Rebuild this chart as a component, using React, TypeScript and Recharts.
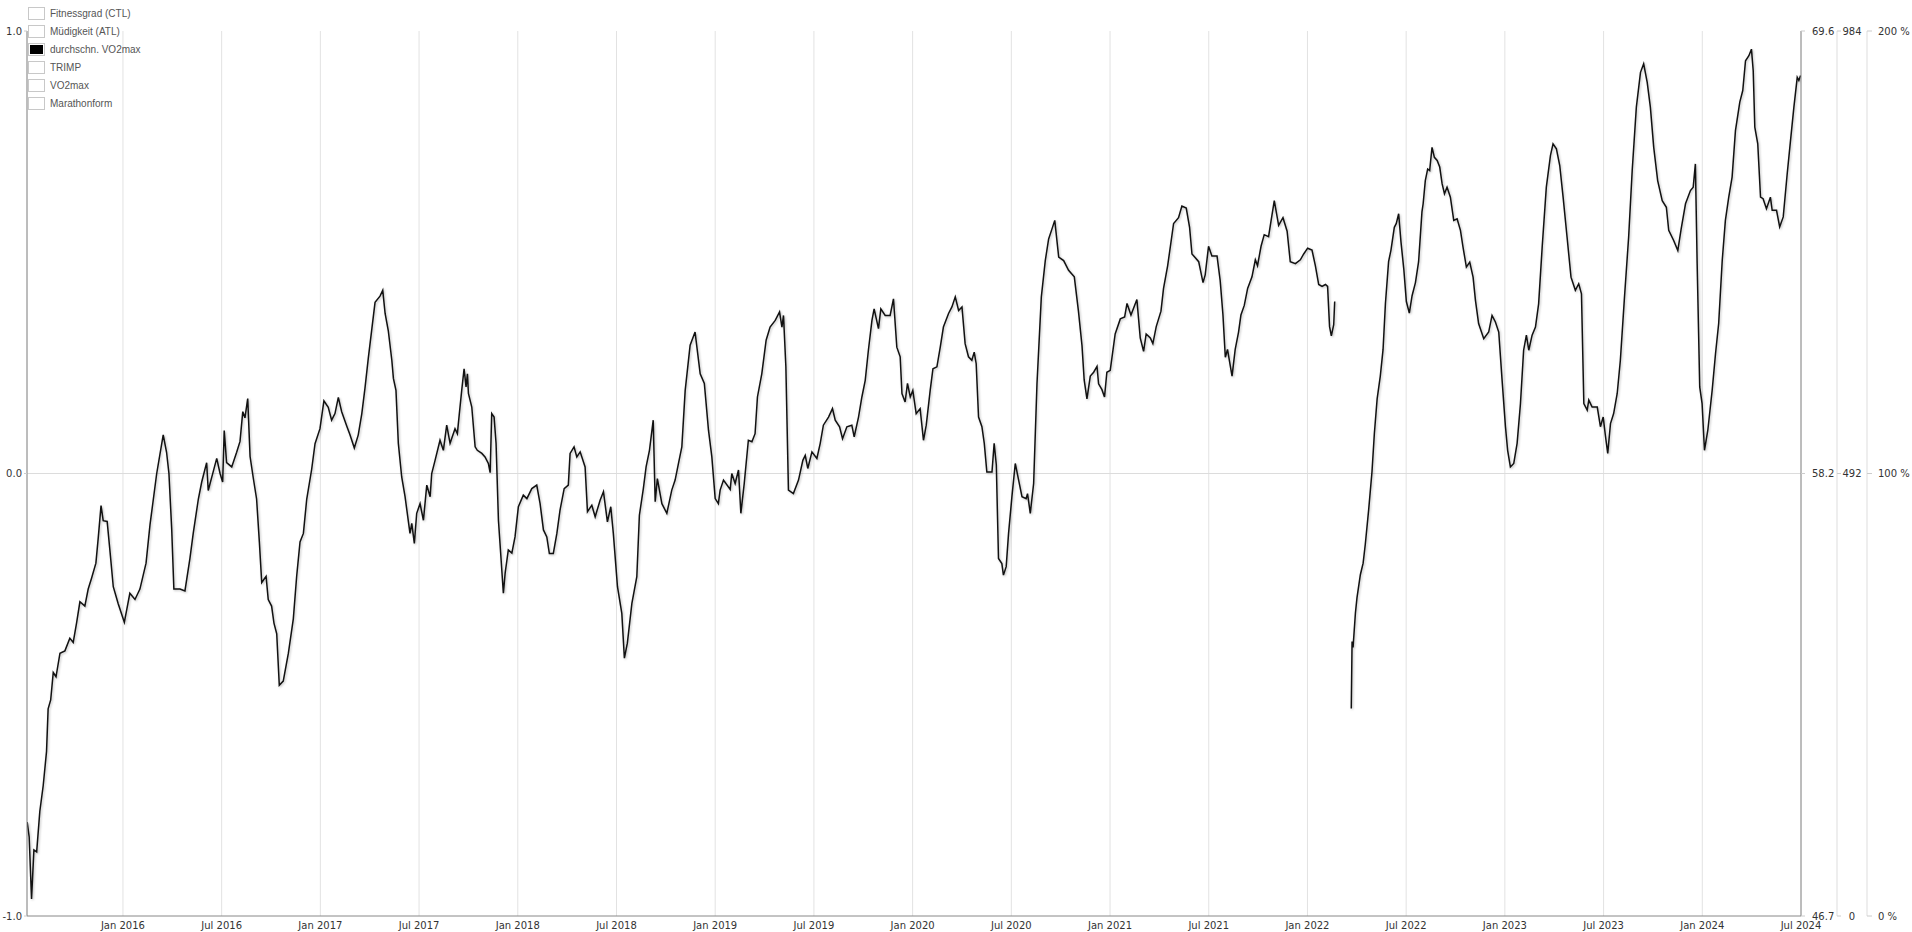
import { CartesianGrid, Line, LineChart, ReferenceLine, XAxis, YAxis } from "recharts";

// legend entries (only one series is switched on)
const legendItems = ["Fitnessgrad (CTL)", "Müdigkeit (ATL)", "durchschn. VO2max", "TRIMP", "VO2max", "Marathonform"];
const activeItem = "durchschn. VO2max";

// x axis: decimal years, ticks on Jan / Jul
const xTicks = [2016, 2016.5, 2017, 2017.5, 2018, 2018.5, 2019, 2019.5, 2020, 2020.5, 2021, 2021.5, 2022, 2022.5, 2023, 2023.5, 2024, 2024.5];
const xTickLabels = ["Jan 2016", "Jul 2016", "Jan 2017", "Jul 2017", "Jan 2018", "Jul 2018", "Jan 2019", "Jul 2019", "Jan 2020", "Jul 2020", "Jan 2021", "Jul 2021", "Jan 2022", "Jul 2022", "Jan 2023", "Jul 2023", "Jan 2024", "Jul 2024"];

const leftTicks = [-1, 0, 1];
const vo2Ticks = [46.7, 58.15, 69.6];
const vo2TickLabels = ["46.7", "58.2", "69.6"];
const trimpTicks = [0, 492, 984];
const formTicks = [0, 100, 200];

// durchschn. VO2max, [decimal year, value]
const vo2_2015: [number, number | null][] = [
  [2015.515, 49.13], [2015.525, 48.75], [2015.537, 47.14], [2015.549, 48.41], [2015.563, 48.36], [2015.579, 49.41],
  [2015.596, 50.07], [2015.613, 50.96], [2015.621, 52.06], [2015.634, 52.29], [2015.647, 53.0], [2015.661, 52.89],
  [2015.681, 53.5], [2015.706, 53.56], [2015.731, 53.89], [2015.748, 53.78], [2015.765, 54.28], [2015.782, 54.83],
  [2015.807, 54.72], [2015.824, 55.16], [2015.841, 55.44], [2015.863, 55.83], [2015.875, 56.49], [2015.889, 57.32],
  [2015.9, 56.93], [2015.92, 56.91], [2015.934, 56.16], [2015.951, 55.22], [2015.976, 54.78],
];
const vo2_2016: [number, number | null][] = [
  [2016.007, 54.3], [2016.035, 55.05], [2016.061, 54.89], [2016.086, 55.16], [2016.117, 55.83], [2016.137, 56.82],
  [2016.171, 58.15], [2016.204, 59.15], [2016.221, 58.7], [2016.233, 58.15], [2016.247, 56.71], [2016.258, 55.16],
  [2016.289, 55.16], [2016.314, 55.11], [2016.339, 55.94], [2016.356, 56.6], [2016.382, 57.49], [2016.399, 57.93],
  [2016.424, 58.43], [2016.432, 57.71], [2016.458, 58.21], [2016.475, 58.54], [2016.492, 58.15], [2016.505, 57.93],
  [2016.513, 59.26], [2016.525, 58.43], [2016.551, 58.32], [2016.576, 58.7], [2016.593, 58.98], [2016.607, 59.75],
  [2016.618, 59.59], [2016.632, 60.09], [2016.644, 58.59], [2016.66, 58.04], [2016.677, 57.49], [2016.691, 56.38],
  [2016.703, 55.33], [2016.725, 55.49], [2016.736, 54.89], [2016.753, 54.72], [2016.765, 54.28], [2016.779, 54.0],
  [2016.792, 52.67], [2016.812, 52.78], [2016.838, 53.5], [2016.863, 54.39], [2016.88, 55.49], [2016.897, 56.38],
  [2016.914, 56.6], [2016.931, 57.49], [2016.956, 58.26], [2016.973, 58.92], [2016.998, 59.31],
];
const vo2_2017: [number, number | null][] = [
  [2017.018, 60.03], [2017.04, 59.86], [2017.057, 59.53], [2017.074, 59.7], [2017.091, 60.12], [2017.108, 59.75],
  [2017.134, 59.37], [2017.15, 59.15], [2017.172, 58.81], [2017.192, 59.15], [2017.21, 59.7], [2017.226, 60.36],
  [2017.243, 61.14], [2017.26, 61.86], [2017.277, 62.58], [2017.302, 62.74], [2017.316, 62.89], [2017.328, 62.29],
  [2017.344, 61.85], [2017.362, 61.08], [2017.37, 60.61], [2017.383, 60.3], [2017.395, 58.93], [2017.412, 58.06],
  [2017.429, 57.55], [2017.454, 56.6], [2017.463, 56.86], [2017.476, 56.34], [2017.488, 57.12], [2017.505, 57.37],
  [2017.522, 56.94], [2017.539, 57.85], [2017.556, 57.55], [2017.564, 58.15], [2017.581, 58.49], [2017.606, 59.01],
  [2017.623, 58.75], [2017.64, 59.4], [2017.657, 58.93], [2017.682, 59.31], [2017.694, 59.18], [2017.704, 59.7],
  [2017.716, 60.3], [2017.728, 60.86], [2017.738, 60.39], [2017.745, 60.73], [2017.75, 60.22], [2017.767, 59.87],
  [2017.784, 58.84], [2017.795, 58.75], [2017.818, 58.67], [2017.834, 58.58], [2017.851, 58.41], [2017.86, 58.17],
  [2017.868, 59.7], [2017.88, 59.61], [2017.89, 58.93], [2017.902, 56.94], [2017.91, 56.34], [2017.927, 55.05],
  [2017.936, 55.57], [2017.952, 56.17], [2017.97, 56.09], [2017.986, 56.51],
];
const vo2_2018: [number, number | null][] = [
  [2018.003, 57.29], [2018.028, 57.59], [2018.046, 57.5], [2018.071, 57.76], [2018.096, 57.85], [2018.113, 57.37],
  [2018.13, 56.69], [2018.147, 56.51], [2018.16, 56.08], [2018.18, 56.08], [2018.198, 56.6], [2018.214, 57.2],
  [2018.235, 57.76], [2018.256, 57.85], [2018.265, 58.67], [2018.285, 58.84], [2018.299, 58.58], [2018.316, 58.71],
  [2018.341, 58.32], [2018.353, 57.16], [2018.375, 57.33], [2018.392, 57.03], [2018.417, 57.46], [2018.434, 57.68],
  [2018.454, 56.9], [2018.471, 57.29], [2018.484, 56.6], [2018.505, 55.22], [2018.527, 54.53], [2018.54, 53.37],
  [2018.555, 53.76], [2018.578, 54.79], [2018.603, 55.48], [2018.616, 57.07], [2018.636, 57.76], [2018.65, 58.32],
  [2018.667, 58.75], [2018.686, 59.53], [2018.696, 57.42], [2018.707, 58.02], [2018.73, 57.37], [2018.755, 57.12],
  [2018.78, 57.72], [2018.797, 57.98], [2018.814, 58.41], [2018.831, 58.84], [2018.848, 60.3], [2018.873, 61.47],
  [2018.898, 61.81], [2018.924, 60.73], [2018.945, 60.48], [2018.966, 59.27], [2018.983, 58.58],
];
const vo2_2019: [number, number | null][] = [
  [2019.0, 57.5], [2019.016, 57.37], [2019.025, 57.72], [2019.042, 57.98], [2019.076, 57.74], [2019.084, 58.15],
  [2019.101, 57.89], [2019.118, 58.24], [2019.13, 57.12], [2019.147, 57.89], [2019.168, 59.01], [2019.186, 58.97],
  [2019.202, 59.18], [2019.214, 60.13], [2019.236, 60.73], [2019.258, 61.6], [2019.278, 61.94], [2019.304, 62.11],
  [2019.326, 62.33], [2019.338, 61.94], [2019.346, 62.24], [2019.358, 60.91], [2019.371, 57.72], [2019.396, 57.63],
  [2019.422, 57.98], [2019.444, 58.49], [2019.456, 58.62], [2019.469, 58.28], [2019.49, 58.71], [2019.515, 58.54],
  [2019.532, 58.93], [2019.548, 59.4], [2019.574, 59.61], [2019.594, 59.83], [2019.608, 59.53], [2019.63, 59.36],
  [2019.645, 59.05], [2019.667, 59.36], [2019.692, 59.4], [2019.704, 59.1], [2019.726, 59.61], [2019.743, 60.13],
  [2019.76, 60.56], [2019.776, 61.34], [2019.794, 62.11], [2019.805, 62.41], [2019.827, 61.9], [2019.839, 62.41],
  [2019.861, 62.24], [2019.886, 62.24], [2019.903, 62.67], [2019.92, 61.42], [2019.937, 61.17], [2019.946, 60.22],
  [2019.962, 60.0], [2019.974, 60.48], [2019.988, 60.13],
];
const vo2_2020: [number, number | null][] = [
  [2020.001, 60.3], [2020.018, 59.7], [2020.038, 59.83], [2020.055, 59.01], [2020.069, 59.4], [2020.089, 60.3],
  [2020.103, 60.86], [2020.123, 60.91], [2020.14, 61.42], [2020.156, 61.94], [2020.182, 62.29], [2020.199, 62.46],
  [2020.216, 62.72], [2020.233, 62.37], [2020.25, 62.46], [2020.266, 61.51], [2020.283, 61.17], [2020.3, 61.08],
  [2020.312, 61.29], [2020.322, 60.99], [2020.334, 59.61], [2020.351, 59.36], [2020.363, 58.93], [2020.376, 58.19],
  [2020.402, 58.19], [2020.413, 58.93], [2020.424, 58.37], [2020.435, 55.95], [2020.452, 55.82], [2020.46, 55.52],
  [2020.474, 55.74], [2020.486, 56.6], [2020.503, 57.55], [2020.52, 58.41], [2020.537, 57.98], [2020.554, 57.55],
  [2020.575, 57.5], [2020.582, 57.63], [2020.596, 57.12], [2020.613, 57.89], [2020.63, 60.48], [2020.652, 62.72],
  [2020.672, 63.66], [2020.689, 64.22], [2020.706, 64.48], [2020.72, 64.7], [2020.74, 63.75], [2020.765, 63.66],
  [2020.79, 63.41], [2020.819, 63.24], [2020.84, 62.35], [2020.858, 61.46], [2020.869, 60.57], [2020.883, 60.08],
  [2020.9, 60.67], [2020.917, 60.77], [2020.934, 60.92], [2020.942, 60.47], [2020.959, 60.32], [2020.972, 60.13],
  [2020.984, 60.77],
];
const vo2_2021: [number, number | null][] = [
  [2021.001, 60.82], [2021.026, 61.76], [2021.052, 62.15], [2021.074, 62.2], [2021.086, 62.55], [2021.106, 62.25],
  [2021.136, 62.65], [2021.153, 61.66], [2021.17, 61.31], [2021.183, 61.76], [2021.204, 61.66], [2021.217, 61.51],
  [2021.234, 61.95], [2021.258, 62.35], [2021.271, 62.94], [2021.292, 63.53], [2021.322, 64.62], [2021.347, 64.77],
  [2021.364, 65.07], [2021.386, 65.02], [2021.403, 64.52], [2021.415, 63.83], [2021.432, 63.73], [2021.449, 63.63],
  [2021.471, 63.09], [2021.482, 63.29], [2021.499, 64.03], [2021.516, 63.78], [2021.542, 63.78], [2021.558, 63.14],
  [2021.572, 62.25], [2021.584, 61.16], [2021.595, 61.36], [2021.618, 60.67], [2021.634, 61.36], [2021.651, 61.81],
  [2021.663, 62.25], [2021.68, 62.5], [2021.697, 62.94], [2021.719, 63.24], [2021.736, 63.68], [2021.747, 63.53],
  [2021.765, 64.03], [2021.781, 64.33], [2021.803, 64.28], [2021.815, 64.67], [2021.832, 65.21], [2021.854, 64.57],
  [2021.876, 64.77], [2021.897, 64.42], [2021.913, 63.63], [2021.939, 63.58], [2021.964, 63.68], [2021.981, 63.83],
];
const vo2_2022: [number, number | null][] = [
  [2022.001, 63.98], [2022.023, 63.93], [2022.04, 63.53], [2022.057, 63.04], [2022.074, 62.99], [2022.091, 63.04],
  [2022.102, 62.99], [2022.112, 61.95], [2022.121, 61.71], [2022.133, 62.0], [2022.138, 62.6], [2022.17, null],
  [2022.222, 52.07], [2022.226, 53.8], [2022.231, 53.65], [2022.243, 54.54], [2022.251, 54.94], [2022.268, 55.53],
  [2022.282, 55.83], [2022.293, 56.32], [2022.31, 57.21], [2022.327, 58.2], [2022.339, 59.19], [2022.353, 60.08],
  [2022.369, 60.67], [2022.383, 61.36], [2022.395, 62.55], [2022.411, 63.63], [2022.423, 63.93], [2022.44, 64.52],
  [2022.45, 64.62], [2022.462, 64.87], [2022.474, 64.13], [2022.488, 63.44], [2022.501, 62.6], [2022.516, 62.3],
  [2022.53, 62.75], [2022.547, 63.09], [2022.563, 63.63], [2022.58, 64.92], [2022.586, 65.13], [2022.597, 65.73],
  [2022.609, 66.03], [2022.619, 65.99], [2022.631, 66.59], [2022.643, 66.33], [2022.657, 66.25], [2022.67, 66.08],
  [2022.682, 65.65], [2022.694, 65.39], [2022.707, 65.56], [2022.724, 65.3], [2022.741, 64.7], [2022.758, 64.74],
  [2022.775, 64.44], [2022.788, 64.01], [2022.805, 63.49], [2022.822, 63.62], [2022.839, 63.23], [2022.851, 62.63],
  [2022.867, 62.03], [2022.893, 61.64], [2022.918, 61.81], [2022.935, 62.24], [2022.952, 62.07], [2022.969, 61.81],
  [2022.986, 60.56],
];
const vo2_2023: [number, number | null][] = [
  [2023.003, 59.36], [2023.014, 58.75], [2023.028, 58.32], [2023.045, 58.41], [2023.062, 58.93], [2023.079, 59.96],
  [2023.095, 61.34], [2023.109, 61.73], [2023.121, 61.34], [2023.138, 61.73], [2023.155, 61.94], [2023.171, 62.54],
  [2023.189, 64.01], [2023.21, 65.56], [2023.231, 66.38], [2023.244, 66.68], [2023.261, 66.55], [2023.278, 66.12],
  [2023.295, 65.3], [2023.315, 64.27], [2023.335, 63.23], [2023.357, 62.89], [2023.374, 63.06], [2023.388, 62.8],
  [2023.4, 59.96], [2023.417, 59.79], [2023.425, 60.05], [2023.442, 59.87], [2023.468, 59.87], [2023.484, 59.36],
  [2023.498, 59.61], [2023.509, 59.14], [2023.521, 58.67], [2023.535, 59.44], [2023.551, 59.7], [2023.569, 60.22],
  [2023.585, 61.08], [2023.606, 62.72], [2023.627, 64.27], [2023.645, 65.99], [2023.666, 67.63], [2023.687, 68.53],
  [2023.703, 68.75], [2023.721, 68.27], [2023.737, 67.63], [2023.754, 66.59], [2023.774, 65.73], [2023.797, 65.21],
  [2023.818, 65.04], [2023.83, 64.44], [2023.855, 64.18], [2023.876, 63.92], [2023.893, 64.48], [2023.915, 65.13],
  [2023.94, 65.47], [2023.954, 65.56], [2023.965, 66.16], [2023.974, 63.58], [2023.987, 60.39], [2023.999, 59.96],
];
const vo2_2024: [number, number | null][] = [
  [2024.011, 58.75], [2024.028, 59.27], [2024.05, 60.3], [2024.067, 61.25], [2024.083, 62.03], [2024.101, 63.66],
  [2024.117, 64.7], [2024.134, 65.3], [2024.151, 65.82], [2024.168, 67.02], [2024.19, 67.76], [2024.205, 68.06],
  [2024.219, 68.83], [2024.236, 68.96], [2024.249, 69.13], [2024.258, 68.57], [2024.266, 67.11], [2024.281, 66.68],
  [2024.295, 65.3], [2024.308, 65.26], [2024.325, 65.0], [2024.345, 65.3], [2024.354, 64.96], [2024.376, 64.96],
  [2024.392, 64.53], [2024.41, 64.79], [2024.43, 65.9], [2024.447, 66.77], [2024.464, 67.63], [2024.481, 68.4],
  [2024.489, 68.32], [2024.498, 68.45],
];

const data = [
  ...vo2_2015, ...vo2_2016, ...vo2_2017, ...vo2_2018, ...vo2_2019,
  ...vo2_2020, ...vo2_2021, ...vo2_2022, ...vo2_2023, ...vo2_2024,
].map(([t, v]) => ({ t, v }));

const tickFont = { fontSize: 10, fontFamily: "'DejaVu Sans', Verdana, sans-serif", fill: "#333" };

// small helper so each axis can place its labels like the original
const makeTick =
  (anchor: "start" | "middle" | "end", dx: number, dy: number, vAnchor: string, fmt: (v: number) => string) =>
  (props: any) => (
    <text x={props.x + dx} y={props.y + dy} dy={vAnchor} textAnchor={anchor} {...tickFont}>
      {fmt(props.payload.value)}
    </text>
  );

function LegendBox() {
  return (
    <div style={{ position: "absolute", left: 28, top: 5, fontFamily: "'Liberation Sans', Arial, sans-serif", fontSize: 10, color: "#555" }}>
      {legendItems.map((name) => (
        <div key={name} style={{ display: "flex", alignItems: "center", height: 17.9 }}>
          <div style={{ width: 13, height: 9, border: "1px solid #c8c8c8", padding: 1, boxSizing: "content-box", marginRight: 5, background: "#fff" }}>
            <div style={{ width: 13, height: 9, background: name === activeItem ? "#000" : "#fff" }} />
          </div>
          <span>{name}</span>
        </div>
      ))}
    </div>
  );
}

export default function App() {
  return (
    <div style={{ position: "absolute", left: 0, top: 0, width: 1912, height: 932, background: "#fff" }}>
      <style>{`.vo2-line .recharts-line-curve { filter: drop-shadow(1px 1px 1px rgba(0,0,0,0.25)); }`}</style>
      <LineChart width={1912} height={932} data={data} margin={{ top: 31, right: 0, bottom: 0, left: 0 }}>
        <CartesianGrid horizontal={false} stroke="#e2e2e2" yAxisId="r1vo2" />
        <XAxis
          dataKey="t"
          type="number"
          domain={[2015.514, 2024.5]}
          ticks={xTicks}
          interval={0}
          allowDataOverflow
          height={16}
          tickSize={0}
          tickLine={false}
          stroke="#888"
          tick={makeTick("middle", 0, 4, "0.71em", (v) => xTickLabels[xTicks.indexOf(v)] ?? "")}
        />
        <YAxis
          yAxisId="left"
          orientation="left"
          type="number"
          width={27}
          domain={[-1, 1]}
          ticks={leftTicks}
          interval={0}
          allowDataOverflow
          tickSize={3}
          stroke="#888"
          tickLine={{ stroke: "#ccc" }}
          tick={makeTick("end", 0, 0, "0.355em", (v) => v.toFixed(1))}
        />
        {/* right axes are stacked outward in order of their ids */}
        <YAxis
          yAxisId="r1vo2"
          orientation="right"
          type="number"
          width={36}
          domain={[46.7, 69.6]}
          ticks={vo2Ticks}
          interval={0}
          allowDataOverflow
          tickSize={4}
          stroke="#888"
          tickLine={{ stroke: "#ccc" }}
          tick={makeTick("start", 5, 0, "0.355em", (v) => vo2TickLabels[vo2Ticks.indexOf(v)] ?? "")}
        />
        <YAxis
          yAxisId="r2trimp"
          orientation="right"
          type="number"
          width={30}
          domain={[0, 984]}
          ticks={trimpTicks}
          interval={0}
          allowDataOverflow
          tickSize={4}
          stroke="#ddd"
          tickLine={{ stroke: "#ccc" }}
          tick={makeTick("middle", 9, 0, "0.355em", (v) => String(v))}
        />
        <YAxis
          yAxisId="r3form"
          orientation="right"
          type="number"
          width={45}
          domain={[0, 200]}
          ticks={formTicks}
          interval={0}
          allowDataOverflow
          tickSize={5}
          stroke="#ddd"
          tickLine={{ stroke: "#ccc" }}
          tick={makeTick("start", 4, 0, "0.355em", (v) => `${v} %`)}
        />
        <ReferenceLine yAxisId="left" y={0} stroke="#dcdcdc" />
        <Line
          className="vo2-line"
          yAxisId="r1vo2"
          type="linear"
          dataKey="v"
          stroke="#111"
          strokeWidth={1.5}
          dot={false}
          activeDot={false}
          connectNulls={false}
          isAnimationActive={false}
        />
      </LineChart>
      <LegendBox />
    </div>
  );
}
